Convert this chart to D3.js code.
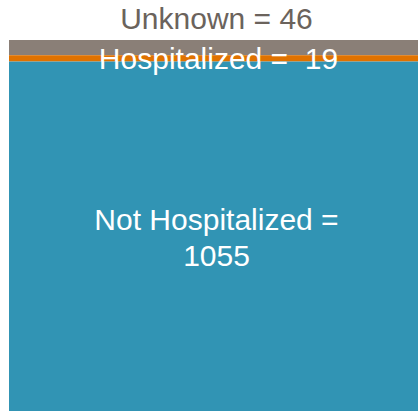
<!DOCTYPE html>
<html>
<head>
<meta charset="utf-8">
<script src="https://cdn.jsdelivr.net/npm/d3@7"></script>
<style>
  html, body { margin: 0; padding: 0; background: #fff; }
  svg { display: block; }
  text { font-family: "Liberation Sans", Arial, sans-serif; white-space: pre; }
</style>
</head>
<body>
<svg id="chart" width="418" height="411"></svg>
<script>
const categories = ['Unknown', 'Hospitalized', 'Not Hospitalized'];
const values = [46, 19, 1055];
const labelLines = [['Unknown = 46'], ['Hospitalized =  19'], ['Not Hospitalized =', '1055']];

const colors = ['#8a7f77', '#e07200', '#3194b4'];

const width = 418;
const height = 411;
const margin = { top: 40, right: 0, bottom: 0, left: 9 };

const svg = d3.select('#chart');

// stack top to bottom
let acc = 0;
const segments = categories.map((c, i) => {
  const s = { category: c, value: values[i], y0: acc, y1: acc + values[i], lines: labelLines[i], color: colors[i] };
  acc += values[i];
  return s;
});

const yScale = d3.scaleLinear()
  .domain([0, d3.sum(values)])
  .range([margin.top, height - margin.bottom]);

const xScale = d3.scaleLinear()
  .domain([0, 1])
  .range([margin.left, width - margin.right]);

svg.selectAll('rect.seg')
  .data(segments)
  .enter()
  .append('rect')
  .attr('class', 'seg')
  .attr('x', xScale(0))
  .attr('width', xScale(1) - xScale(0))
  .attr('y', (d) => yScale(d.y0))
  .attr('height', (d) => yScale(d.y1) - yScale(d.y0))
  .attr('fill', (d) => d.color);

const cx = (xScale(0) + xScale(1)) / 2 + 3;
const fontSize = 30;
const lineH = 36;

// Unknown label sits above the bar
svg.append('text')
  .attr('x', cx)
  .attr('y', yScale(segments[0].y0) - 11)
  .attr('text-anchor', 'middle')
  .attr('fill', '#6b635c')
  .style('font-size', fontSize + 'px')
  .text(segments[0].lines[0]);

// Hospitalized label centred on its thin band
svg.append('text')
  .attr('x', cx + 2)
  .attr('y', (yScale(segments[1].y0) + yScale(segments[1].y1)) / 2 + 11)
  .attr('text-anchor', 'middle')
  .attr('fill', '#fff')
  .style('font-size', fontSize + 'px')
  .text(segments[1].lines[0]);

// Not hospitalized label in the middle of the big block
const mid = (yScale(segments[2].y0) + yScale(segments[2].y1)) / 2;
const t = svg.append('text')
  .attr('text-anchor', 'middle')
  .attr('fill', '#fff')
  .style('font-size', fontSize + 'px');
segments[2].lines.forEach((l, i) => {
  t.append('tspan')
    .attr('x', cx)
    .attr('y', mid - 6 + i * lineH)
    .text(l);
});
</script>
</body>
</html>
